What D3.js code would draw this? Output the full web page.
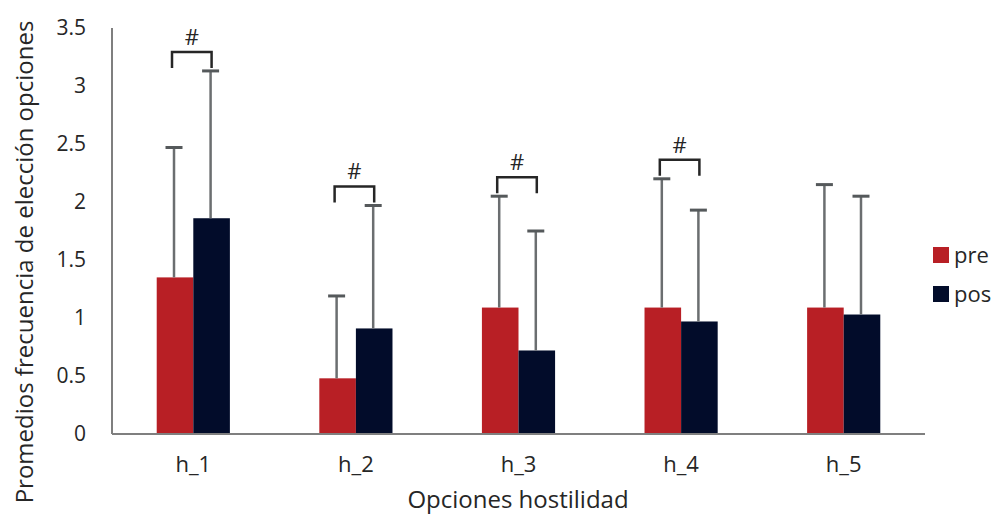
<!DOCTYPE html>
<html>
<head>
<meta charset="utf-8">
<script src="https://cdn.jsdelivr.net/npm/d3@7"></script>
<style>
  body { margin: 0; background: #fff; }
  svg text { font-family: "Open Sans", "Noto Sans", sans-serif; fill: #262626; }
</style>
</head>
<body>
<svg id="chart" width="994" height="515"></svg>
<script>
// datos
let categories = ["h_1", "h_2", "h_3", "h_4", "h_5"];
let groups = ["pre", "pos"];
let preValues = [1.35, 0.48, 1.09, 1.09, 1.09];
let posValues = [1.86, 0.91, 0.72, 0.97, 1.03];
let preErrTop = [2.47, 1.19, 2.05, 2.20, 2.15];
let posErrTop = [3.13, 1.97, 1.75, 1.93, 2.05];
let significant = [true, true, true, true, false];
let yTicks = [0, 0.5, 1, 1.5, 2, 2.5, 3, 3.5];
let colors = { pre: "#b81f25", pos: "#020c2a" };

let svg = d3.select("#chart");

let x0 = d3.scaleBand()
    .domain(categories)
    .range([112, 925])
    .paddingInner(0.55)
    .paddingOuter(0.275);

let x1 = d3.scaleBand()
    .domain(groups)
    .range([0, x0.bandwidth()]);

let y = d3.scaleLinear()
    .domain([0, 3.5])
    .range([434, 28]);

let data = categories.map((c, i) => ({
    cat: c,
    pre: preValues[i], pos: posValues[i],
    preErr: preErrTop[i], posErr: posErrTop[i],
    sig: significant[i]
}));

// ejes
svg.append("line")
    .attr("x1", 112).attr("x2", 112)
    .attr("y1", y(3.5)).attr("y2", y(0))
    .attr("stroke", "#7f7f7f").attr("stroke-width", 2);

svg.selectAll(".ytick")
    .data(yTicks)
    .enter().append("text")
    .attr("class", "ytick")
    .attr("x", 86)
    .attr("y", d => y(d))
    .attr("dy", "0.35em")
    .attr("text-anchor", "end")
    .style("font-size", "21px")
    .text(d => d);

// barras
let g = svg.selectAll(".grp")
    .data(data)
    .enter().append("g")
    .attr("transform", d => "translate(" + x0(d.cat) + ",0)");

groups.forEach(k => {
    g.append("rect")
        .attr("x", x1(k))
        .attr("y", d => y(d[k]))
        .attr("width", x1.bandwidth())
        .attr("height", d => y(0) - y(d[k]))
        .attr("fill", colors[k]);

    // barras de error
    let cx = x1(k) + x1.bandwidth() / 2 - 1;
    g.append("line")
        .attr("x1", cx).attr("x2", cx)
        .attr("y1", d => y(d[k]))
        .attr("y2", d => y(d[k + "Err"]))
        .attr("stroke", "#6b6e70").attr("stroke-width", 2.5);
    g.append("line")
        .attr("x1", cx - 8.5).attr("x2", cx + 8.5)
        .attr("y1", d => y(d[k + "Err"]))
        .attr("y2", d => y(d[k + "Err"]))
        .attr("stroke", "#55595b").attr("stroke-width", 3);
});

// corchetes de significancia
let sigG = g.filter(d => d.sig);
sigG.each(function(d) {
    let top = y(Math.max(d.preErr, d.posErr)) - 19;
    let xa = x1("pre") + x1.bandwidth() / 2 - 3;
    let xb = x1("pos") + x1.bandwidth() / 2;
    d3.select(this).append("path")
        .attr("d", "M" + xa + "," + (top + 16) + "V" + top + "H" + xb + "V" + (top + 16))
        .attr("fill", "none")
        .attr("stroke", "#262626").attr("stroke-width", 2.5);
    d3.select(this).append("text")
        .attr("x", (xa + xb) / 2)
        .attr("y", top - 7)
        .attr("text-anchor", "middle")
        .style("font-size", "22px")
        .text("#");
});

svg.append("line")
    .attr("x1", 112).attr("x2", 925)
    .attr("y1", y(0)).attr("y2", y(0))
    .attr("stroke", "#7f7f7f").attr("stroke-width", 2);

// etiquetas categorías
svg.selectAll(".xlab")
    .data(categories)
    .enter().append("text")
    .attr("x", d => x0(d) + x0.bandwidth() / 2)
    .attr("y", 472)
    .attr("text-anchor", "middle")
    .style("font-size", "22px")
    .text(d => d);

// títulos
svg.append("text")
    .attr("x", 518)
    .attr("y", 508)
    .attr("text-anchor", "middle")
    .style("font-size", "24px")
    .text("Opciones hostilidad");

svg.append("text")
    .attr("transform", "translate(33,262) rotate(-90)")
    .attr("text-anchor", "middle")
    .style("font-size", "24px")
    .text("Promedios frecuencia de elección opciones");

// leyenda
let legend = svg.selectAll(".legend")
    .data(groups)
    .enter().append("g")
    .attr("transform", (d, i) => "translate(933," + (247 + i * 39) + ")");

legend.append("rect")
    .attr("width", 16).attr("height", 16)
    .attr("fill", d => colors[d]);

legend.append("text")
    .attr("x", 21).attr("y", 8)
    .attr("dy", "0.35em")
    .style("font-size", "22px")
    .text(d => d);
</script>
</body>
</html>
